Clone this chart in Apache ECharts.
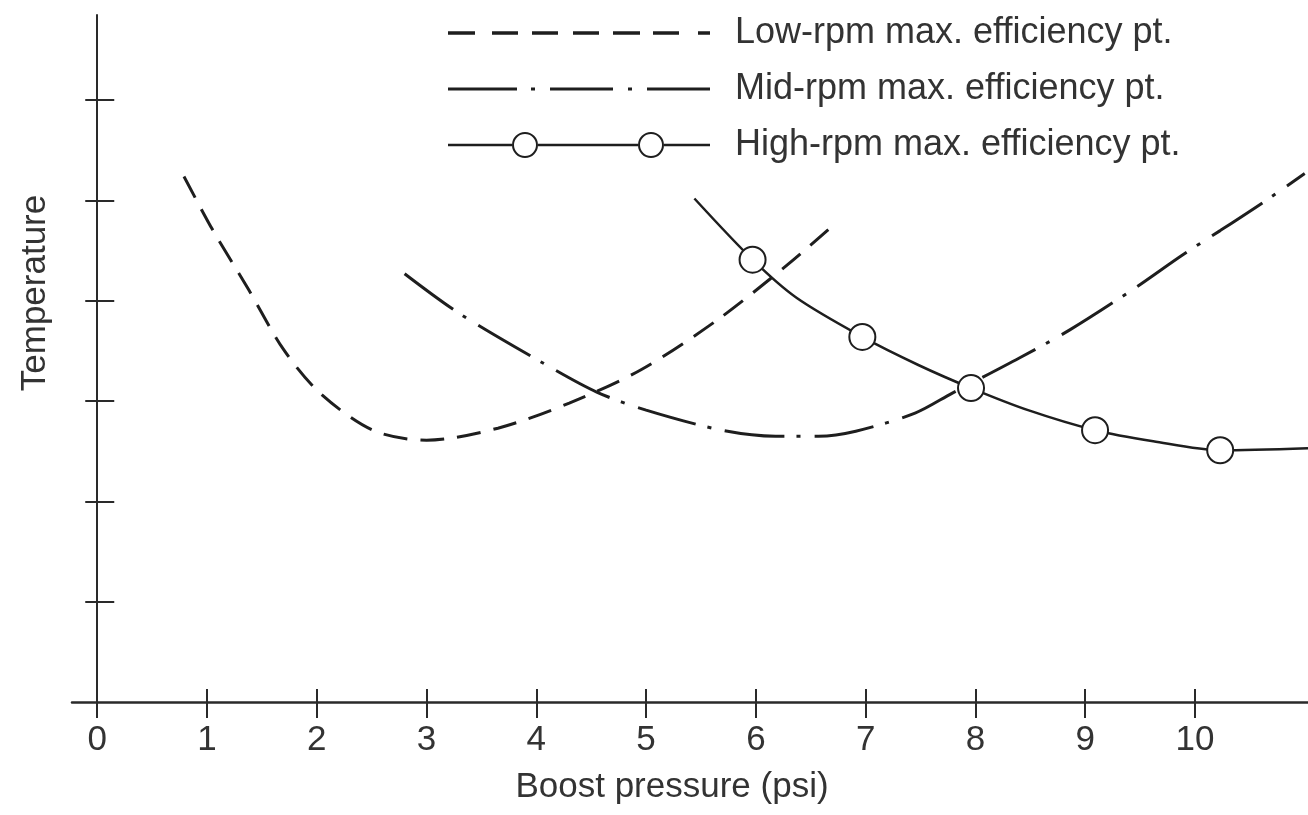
<!DOCTYPE html>
<html>
<head>
<meta charset="utf-8">
<script src="https://cdn.jsdelivr.net/npm/echarts@6/dist/echarts.min.js"></script>
<style>
html,body{margin:0;padding:0;background:#ffffff;}
#chart{width:1308px;height:815px;}
</style>
</head>
<body>
<div id="chart"></div>
<script>
// ---- data ----
const xTickValues = [0, 1, 2, 3, 4, 5, 6, 7, 8, 9, 10];
const yTickValues = [1, 2, 3, 4, 5, 6];
const seriesNames = ['Low-rpm max. efficiency pt.', 'Mid-rpm max. efficiency pt.', 'High-rpm max. efficiency pt.'];
const xTitle = 'Boost pressure (psi)';
const yTitle = 'Temperature';

const lowX = [0.79, 1.05, 1.38, 1.70, 2.03, 2.51, 3.00, 3.65, 4.30, 4.95, 5.65, 6.30, 6.66];
const lowY = [5.24, 4.71, 4.11, 3.51, 3.08, 2.71, 2.61, 2.73, 2.98, 3.31, 3.81, 4.37, 4.71];

const midX = [2.80, 3.29, 4.06, 4.55, 5.00, 5.69, 6.18, 6.57, 6.91, 7.45, 7.79, 8.40, 8.86, 9.43, 9.89, 10.23, 10.66, 11.00];
const midY = [4.27, 3.88, 3.38, 3.09, 2.91, 2.71, 2.65, 2.65, 2.70, 2.88, 3.08, 3.43, 3.71, 4.11, 4.46, 4.70, 5.01, 5.27];

const highX = [5.44, 5.97, 6.37, 6.97, 7.48, 7.96, 8.48, 9.09, 9.62, 10.23, 11.03];
const highY = [5.02, 4.41, 4.03, 3.64, 3.36, 3.13, 2.91, 2.71, 2.60, 2.51, 2.53];

const highPtX = [5.97, 6.97, 7.96, 9.09, 10.23];
const highPtY = [4.41, 3.64, 3.13, 2.71, 2.51];

// ---- helpers ----
function pairs(xs, ys) { return xs.map(function (x, i) { return [x, ys[i]]; }); }
function rects(segs, y0, h) {
  return segs.map(function (s) {
    return 'M' + s[0] + ',' + y0 + ' L' + s[1] + ',' + y0 + ' L' + s[1] + ',' + (y0 + h) + ' L' + s[0] + ',' + (y0 + h) + ' Z';
  }).join(' ');
}
function ring(cx, cy, R, r) {
  return 'M' + (cx - R) + ',' + cy + ' A' + R + ',' + R + ' 0 1,1 ' + (cx + R) + ',' + cy +
         ' A' + R + ',' + R + ' 0 1,1 ' + (cx - R) + ',' + cy + ' Z' +
         ' M' + (cx - r) + ',' + cy + ' A' + r + ',' + r + ' 0 1,0 ' + (cx + r) + ',' + cy +
         ' A' + r + ',' + r + ' 0 1,0 ' + (cx - r) + ',' + cy + ' Z';
}

const INK = '#1e1e1e';
const TXT = '#333333';
const FONT = "'Liberation Sans', Arial, Helvetica, sans-serif";

const iconLow = 'path://' + rects([[0,27],[44,70],[84,110],[125,151],[165,192],[205,231],[250,262]], 0, 3.5);
const iconMid = 'path://' + rects([[0,69],[83,87],[102,165],[180,184],[199,262]], 0, 3);
const iconHigh = 'path://' + rects([[0,64],[90,190],[216,262]], 11.75, 2.5) + ' ' + ring(77, 13, 13, 11) + ' ' + ring(203, 13, 13, 11);

const chart = echarts.init(document.getElementById('chart'), null, { renderer: 'canvas' });

const xMin = -0.23, xMax = 11.03, yMin = -0.15, yMax = 6.85;

chart.setOption({
  animation: false,
  backgroundColor: '#ffffff',
  grid: { left: 72, right: 0, top: 15, bottom: 98, containLabel: false, outerBoundsMode: 'none' },
  legend: {
    orient: 'vertical',
    left: 448,
    top: 15,
    padding: 0,
    itemWidth: 262,
    itemHeight: 26,
    itemGap: 20,
    selectedMode: false,
    symbolKeepAspect: true,
    textStyle: { fontFamily: FONT, fontSize: 36, color: TXT, padding: [0, 0, 0, 20] },
    data: [
      { name: seriesNames[0], icon: iconLow, itemStyle: { color: INK, borderWidth: 0 } },
      { name: seriesNames[1], icon: iconMid, itemStyle: { color: INK, borderWidth: 0 } },
      { name: seriesNames[2], icon: iconHigh, itemStyle: { color: INK, borderWidth: 0 } }
    ]
  },
  xAxis: [
    {
      type: 'value', min: xMin, max: xMax,
      axisLine: { show: true, onZero: true, lineStyle: { color: '#2a2a2a', width: 2.5 } },
      axisTick: { show: true, customValues: xTickValues, length: 16, lineStyle: { color: '#2a2a2a', width: 2 } },
      axisLabel: { show: true, customValues: xTickValues, margin: 6, fontFamily: FONT, fontSize: 35, color: TXT },
      splitLine: { show: false },
      name: xTitle, nameLocation: 'middle', nameGap: 53,
      nameTextStyle: { fontFamily: FONT, fontSize: 35, color: TXT, padding: [0, 36, 0, 0] }
    },
    {
      type: 'value', min: xMin, max: xMax, position: 'bottom',
      axisLine: { show: true, onZero: true, lineStyle: { opacity: 0 } },
      axisTick: { show: true, inside: true, customValues: xTickValues, length: 13, lineStyle: { color: '#2a2a2a', width: 2 } },
      axisLabel: { show: false },
      splitLine: { show: false }
    }
  ],
  yAxis: [
    {
      type: 'value', min: yMin, max: yMax,
      axisLine: { show: true, onZero: true, lineStyle: { color: '#2a2a2a', width: 2 } },
      axisTick: { show: true, customValues: yTickValues, length: 12, lineStyle: { color: '#2a2a2a', width: 2 } },
      axisLabel: { show: false },
      splitLine: { show: false }
    },
    {
      type: 'value', min: yMin, max: yMax, position: 'left',
      axisLine: { show: true, onZero: true, lineStyle: { opacity: 0 } },
      axisTick: { show: true, inside: true, customValues: yTickValues, length: 17, lineStyle: { color: '#2a2a2a', width: 2 } },
      axisLabel: { show: false },
      splitLine: { show: false }
    }
  ],
  graphic: [
    {
      type: 'text', x: 35, y: 293, rotation: Math.PI / 2,
      style: { text: yTitle, fontFamily: FONT, fontSize: 35, fill: TXT, align: 'center', verticalAlign: 'middle' }
    }
  ],
  series: [
    {
      type: 'line', name: seriesNames[0], data: pairs(lowX, lowY),
      smooth: 0.3, symbol: 'none', color: INK,
      lineStyle: { color: INK, width: 3, type: [24, 13] }
    },
    {
      type: 'line', name: seriesNames[1], data: pairs(midX, midY),
      smooth: 0.3, symbol: 'none', color: INK,
      lineStyle: { color: INK, width: 3, type: [60, 12, 4, 14] }
    },
    {
      type: 'line', name: seriesNames[2], data: pairs(highX, highY),
      smooth: 0.3, symbol: 'none', color: INK,
      lineStyle: { color: INK, width: 2.5, type: 'solid' }
    },
    {
      type: 'scatter', name: seriesNames[2], data: pairs(highPtX, highPtY),
      symbol: 'circle', symbolSize: 26, z: 5,
      itemStyle: { color: '#ffffff', borderColor: INK, borderWidth: 2, opacity: 1 }
    }
  ]
});
</script>
</body>
</html>
